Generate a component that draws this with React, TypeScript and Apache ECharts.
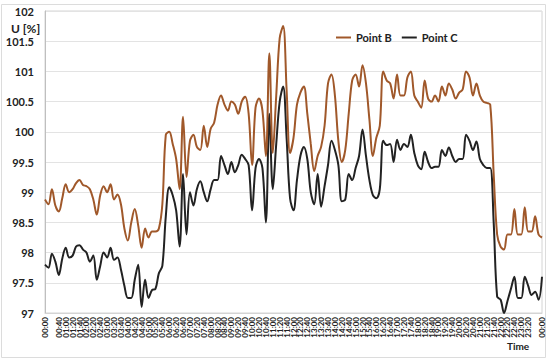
import React, { useEffect, useRef } from "react";
import * as echarts from "echarts";

const yTicks = { min: 97, max: 102, step: 0.5 };

// categories: every 10 minutes from 00:00 to 24:00 (shown as 00:00)
const timeCategories: string[] = [];
for (let m = 0; m <= 1440; m += 10) {
  const h = Math.floor(m / 60) % 24;
  const mm = m % 60;
  timeCategories.push(String(h).padStart(2, "0") + ":" + String(mm).padStart(2, "0"));
}

const pointB = [
  98.88, 98.8, 99.05, 98.78, 98.68, 98.9, 99.13, 99.0, 99.05, 99.15,
  99.2, 99.12, 99.1, 99.05, 98.88, 98.63, 98.95, 99.1, 99.0, 99.13,
  98.88, 98.96, 98.8, 98.4, 98.2, 98.5, 98.72, 98.45, 98.08, 98.4,
  98.25, 98.35, 98.35, 98.4, 98.8, 99.95, 100.0, 99.8, 99.55, 99.05,
  100.25, 99.25, 99.85, 99.95, 99.75, 99.7, 100.1, 99.75, 100.05, 100.15,
  100.45, 100.6, 100.45, 100.35, 100.5, 100.45, 100.3, 100.5, 100.58, 100.3,
  99.45, 100.4, 100.55, 100.35, 99.6, 101.3, 99.65, 100.6, 101.55, 101.75,
  100.7, 99.65, 99.9, 100.45, 100.65, 100.75, 100.3, 99.8, 99.35, 99.6,
  99.75, 100.1, 100.8, 100.95, 100.6, 99.85, 99.5, 99.7, 100.3, 100.85,
  100.95, 100.75, 101.1, 100.8, 100.2, 99.6, 99.9, 100.1, 101.0, 100.85,
  100.8, 100.55, 100.95, 100.6, 100.6, 100.9, 101.0, 100.6, 100.5, 100.4,
  100.85, 100.55, 100.5, 100.6, 100.5, 100.75, 100.6, 100.8, 100.7, 100.55,
  100.65, 100.7, 101.0, 100.9, 100.6, 100.8, 100.6, 100.5, 100.48, 100.45,
  99.3, 98.3, 98.1, 98.05, 98.3, 98.3, 98.72, 98.3, 98.3, 98.75,
  98.35, 98.35, 98.6, 98.3, 98.25,
];

const pointC = [
  97.8, 97.75, 97.98, 97.85, 97.63, 97.9, 98.08, 97.92, 97.95, 98.1,
  98.12, 98.05, 98.0, 97.85, 97.95, 97.55, 97.78, 98.0, 97.92, 98.08,
  97.88, 97.92, 97.72, 97.45, 97.25, 97.25, 97.55, 97.8, 97.1, 97.55,
  97.25, 97.38, 97.4, 97.66, 97.78, 98.6, 99.08, 98.95, 98.7, 98.1,
  99.3, 98.3, 99.0, 98.78, 99.05, 99.18, 99.0, 98.85, 99.05, 99.2,
  99.2, 99.6, 99.45, 99.3, 99.5, 99.33, 99.45, 99.62, 99.55, 99.45,
  98.7, 99.4, 99.55, 99.4, 98.5, 100.3, 99.05, 99.8, 100.5, 100.75,
  99.9, 98.9, 98.7, 99.2, 99.6, 99.75, 99.55, 99.0, 98.8, 99.3,
  98.76, 99.1, 99.45, 99.85, 99.7, 99.45, 98.85, 98.88, 99.3, 99.2,
  99.4, 99.6, 100.04, 99.6, 99.2, 98.95, 98.9, 99.05, 99.85, 99.78,
  99.8, 99.5, 99.87, 99.7, 99.8, 99.75, 99.95, 99.65, 99.45, 99.38,
  99.67, 99.5, 99.4, 99.42, 99.42, 99.7, 99.6, 99.74, 99.6, 99.5,
  99.55, 99.55, 99.95, 99.85, 99.7, 99.84, 99.55, 99.45, 99.4, 99.4,
  98.5, 97.27, 97.22, 97.0, 97.2, 97.4, 97.6, 97.25, 97.25, 97.6,
  97.45, 97.3, 97.35, 97.22, 97.6,
];

const FONT = "Lato, 'Open Sans', sans-serif";

export default function App() {
  const ref = useRef<HTMLDivElement>(null);
  useEffect(() => {
    if (!ref.current) return;
    const chart = echarts.init(ref.current, undefined, { renderer: "svg" });
    chart.setOption({
      animation: false,
      backgroundColor: "#ffffff",
      textStyle: { fontFamily: FONT },
      grid: {
        left: 45,
        right: 8,
        top: 11,
        bottom: 49,
        show: true,
        borderColor: "#d4d4d4",
        borderWidth: 1,
      },
      legend: {
        left: 331,
        top: 27,
        itemWidth: 15,
        itemHeight: 2,
        itemGap: 10,
        icon: "rect",
        textStyle: { fontFamily: FONT, fontWeight: "bold", fontSize: 11, color: "#222" },
        data: ["Point B", "Point C"],
      },
      graphic: [
        {
          type: "rect",
          shape: { x: 1.5, y: 4.5, width: 544, height: 353 },
          style: { fill: "none", stroke: "#dcdcdc", lineWidth: 1 },
          silent: true,
        },
        {
          type: "text",
          left: 11,
          top: 22,
          style: { text: "U [%]", fontFamily: FONT, fontWeight: "bold", fontSize: 12, fill: "#222" },
        },
        {
          type: "text",
          left: 507,
          top: 341,
          style: { text: "Time", fontFamily: FONT, fontWeight: "bold", fontSize: 10, fill: "#222" },
        },
      ],
      xAxis: {
        type: "category",
        data: timeCategories,
        boundaryGap: false,
        axisLine: { show: true, lineStyle: { color: "#d4d4d4" } },
        axisTick: { show: false },
        axisLabel: {
          interval: (idx: number) => idx % 2 === 0,
          showMinLabel: true,
          showMaxLabel: true,
          rotate: 90,
          margin: 4,
          hideOverlap: false,
          fontFamily: FONT,
          fontWeight: "bold",
          fontSize: 8,
          color: "#222",
        },
      },
      yAxis: {
        type: "value",
        min: yTicks.min,
        max: yTicks.max,
        interval: yTicks.step,
        axisLine: { show: true, lineStyle: { color: "#bfbfbf" } },
        axisTick: { show: false },
        splitLine: { lineStyle: { color: "#e3e3e3" } },
        axisLabel: {
          margin: 11,
          fontFamily: FONT,
          fontWeight: "bold",
          fontSize: 11,
          color: "#222",
        },
      },
      series: [
        {
          name: "Point B",
          type: "line",
          data: pointB,
          smooth: 0.35,
          symbol: "none",
          lineStyle: { color: "#a0582a", width: 2 },
          itemStyle: { color: "#a0582a" },
          z: 3,
        },
        {
          name: "Point C",
          type: "line",
          data: pointC,
          smooth: 0.35,
          symbol: "none",
          lineStyle: { color: "#222222", width: 2 },
          itemStyle: { color: "#222222" },
          z: 2,
        },
      ],
    });
    return () => chart.dispose();
  }, []);
  return (
    <div
      ref={ref}
      style={{ position: "fixed", left: 0, top: 0, width: 550, height: 362 }}
    />
  );
}
